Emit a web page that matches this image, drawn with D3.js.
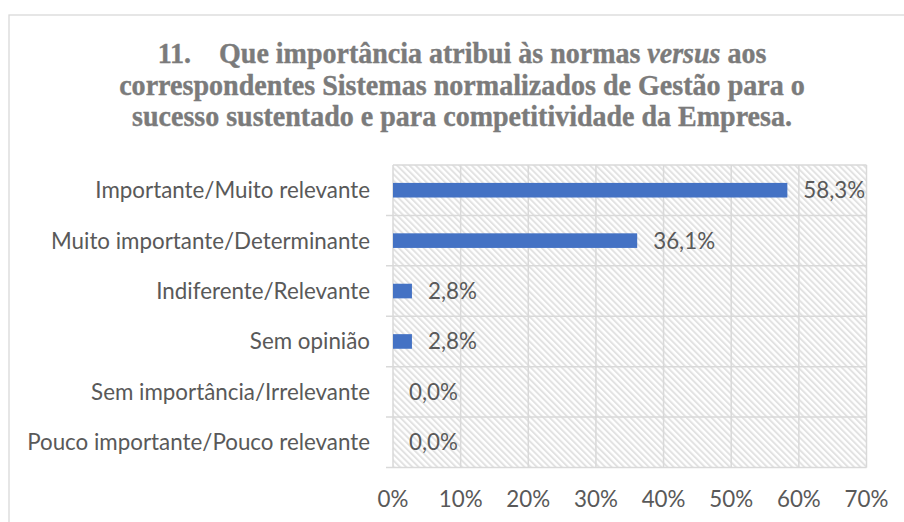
<!DOCTYPE html>
<html>
<head>
<meta charset="utf-8">
<script src="https://cdn.jsdelivr.net/npm/d3@7"></script>
<style>
  html, body { margin: 0; padding: 0; background: #fff; }
  svg { display: block; }
</style>
</head>
<body>
<svg id="chart" width="904" height="522"></svg>
<script>
// ---- data ----
const categories = [
  "Importante/Muito relevante",
  "Muito importante/Determinante",
  "Indiferente/Relevante",
  "Sem opinião",
  "Sem importância/Irrelevante",
  "Pouco importante/Pouco relevante"
];
const values = [58.3, 36.1, 2.8, 2.8, 0.0, 0.0];
const xTicks = [0, 10, 20, 30, 40, 50, 60, 70];
const titleLines = [
  [{t: "11.    Que importância atribui às normas ", i: false}, {t: "versus", i: true}, {t: " aos", i: false}],
  [{t: "correspondentes Sistemas normalizados de Gestão para o", i: false}],
  [{t: "sucesso sustentado e para competitividade da Empresa.", i: false}]
];

// ---- layout ----
const plot = {left: 393, right: 866.5, top: 165, bottom: 467.5};
const textColor = "#595959";
const gridColor = "#d9d9d9";
const barColor = "#4472C4";

const svg = d3.select("#chart");

// pattern
const defs = svg.append("defs");
const pat = defs.append("pattern")
  .attr("id", "hatch").attr("patternUnits", "userSpaceOnUse")
  .attr("width", 4.4).attr("height", 4.4)
  .attr("patternTransform", "rotate(-45)");
pat.append("rect").attr("width", 4.4).attr("height", 4.4).attr("fill", "#ffffff");
pat.append("rect").attr("width", 2.0).attr("height", 4.4).attr("fill", "#e2e2e2");

// chart border
svg.append("rect").attr("x", 9).attr("y", 15).attr("width", 1000).attr("height", 600)
  .attr("fill", "#fff").attr("stroke", gridColor).attr("stroke-width", 1.3);

// title
const serif = "'Liberation Serif', 'DejaVu Serif', serif";
const titleBaselines = [63, 94.5, 126];
const titleWidths = [609, 686, 660];
const titleCx = 462;
titleLines.forEach((parts, k) => {
  const g = svg.append("g");
  const t = g.append("text")
    .attr("x", 0).attr("y", 0)
    .attr("font-family", serif)
    .attr("font-weight", "bold").attr("font-size", 30)
    .attr("fill", "#7b7b7b").attr("text-anchor", "middle")
    .attr("stroke", "#7b7b7b").attr("stroke-width", 0.4);
  parts.forEach(p => {
    t.append("tspan").text(p.t)
      .attr("font-family", serif)
      .attr("font-style", p.i ? "italic" : "normal");
  });
  t.attr("xml:space", "preserve");
  const w = t.node().getComputedTextLength();
  const sx = titleWidths[k] / w;
  g.attr("transform", `translate(${titleCx},${titleBaselines[k]}) scale(${sx},1)`);
});

// scales
const x = d3.scaleLinear().domain([0, 70]).range([plot.left, plot.right]);
const y = d3.scaleBand().domain(categories).range([plot.top, plot.bottom])
  .paddingInner(0.71).paddingOuter(0.355);
const step = y.step();

// plot background
svg.append("rect")
  .attr("x", plot.left).attr("y", plot.top)
  .attr("width", plot.right - plot.left).attr("height", plot.bottom - plot.top)
  .attr("fill", "url(#hatch)");

// vertical gridlines
svg.append("g").selectAll("line").data(xTicks).join("line")
  .attr("x1", d => x(d)).attr("x2", d => x(d))
  .attr("y1", plot.top).attr("y2", plot.bottom)
  .attr("stroke", gridColor).attr("stroke-width", 1.5);

// horizontal lines at category boundaries (with ticks extending left)
const bounds = d3.range(categories.length + 1).map(i => plot.top + i * step);
svg.append("g").selectAll("line").data(bounds).join("line")
  .attr("x1", (d, i) => i === 0 ? plot.left : plot.left - 7).attr("x2", plot.right)
  .attr("y1", d => d).attr("y2", d => d)
  .attr("stroke", gridColor).attr("stroke-width", 1.5);

// label font: fixed size, horizontally condensed to Calibri-like widths
const labelFont = "Lato, 'Open Sans', sans-serif";
const fs = 22.5;
const probe = svg.append("text").attr("font-family", labelFont).attr("font-size", fs)
  .text("Pouco importante/Pouco relevante");
const sx = 343 / probe.node().getComputedTextLength();
probe.remove();

function label(g, px, py, txt, anchor) {
  g.append("text")
    .attr("transform", `translate(${px},${py}) scale(${sx},1)`)
    .attr("dy", "0.35em")
    .attr("text-anchor", anchor)
    .attr("font-family", labelFont).attr("font-size", fs)
    .attr("fill", textColor)
    .text(txt);
}

// category labels
const gCat = svg.append("g");
categories.forEach(c => label(gCat, 370, y(c) + y.bandwidth() / 2, c, "end"));

// bars
svg.append("g").selectAll("rect").data(values).join("rect")
  .attr("x", x(0))
  .attr("y", (d, i) => y(categories[i]))
  .attr("width", d => x(d) - x(0))
  .attr("height", y.bandwidth())
  .attr("fill", barColor);

// value labels
const fmt = d => d3.format(".1f")(d).replace(".", ",") + "%";
const gVal = svg.append("g");
values.forEach((v, i) => label(gVal, x(v) + 16, y(categories[i]) + y.bandwidth() / 2, fmt(v), "start"));

// x axis labels
const gX = svg.append("g");
xTicks.forEach(t => label(gX, x(t), 499, t + "%", "middle"));
</script>
</body>
</html>
